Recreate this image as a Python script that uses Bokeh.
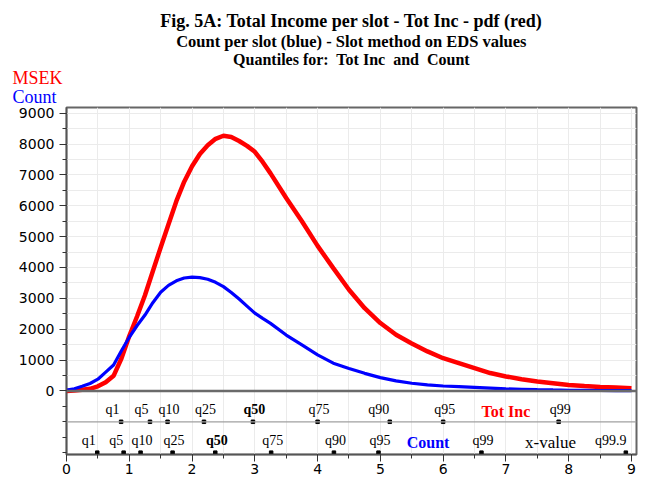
from bokeh.plotting import figure
from bokeh.models import FixedTicker, Span, Label, ColumnDataSource, Range1d
from bokeh.core.properties import value
from bokeh.embed import file_html
from bokeh.resources import INLINE

# ---- data ----
x_vals = [0, 0.125, 0.25, 0.375, 0.5, 0.625, 0.75, 0.875, 1.0, 1.125, 1.25, 1.375, 1.5,
          1.625, 1.75, 1.875, 2.0, 2.125, 2.25, 2.375, 2.5, 2.625, 2.75, 2.875, 3.0,
          3.125, 3.25, 3.5, 3.75, 4.0, 4.25, 4.5, 4.75, 5.0, 5.25, 5.5, 5.75, 6.0,
          6.25, 6.5, 6.75, 7.0, 7.25, 7.5, 7.75, 8.0, 8.25, 8.5, 8.75, 9.0]
tot_inc = [0, 10, 40, 70, 150, 280, 490, 1050, 1780, 2420, 3100, 3880, 4650,
           5400, 6150, 6780, 7280, 7680, 7960, 8170, 8270, 8230, 8100, 7940, 7750,
           7420, 7050, 6250, 5500, 4700, 3980, 3280, 2680, 2200, 1820, 1540, 1280, 1060,
           900, 740, 580, 470, 380, 305, 250, 195, 160, 130, 110, 90]
count = [30, 70, 150, 240, 380, 610, 840, 1300, 1740, 2120, 2460, 2860, 3200,
         3420, 3570, 3660, 3690, 3670, 3620, 3520, 3380, 3190, 2980, 2750, 2520,
         2350, 2190, 1810, 1490, 1170, 900, 730, 570, 430, 325, 250, 195, 160,
         140, 115, 90, 65, 55, 43, 32, 22, 18, 14, 12, 10]

tot_q_names = ["q1", "q5", "q10", "q25", "q50", "q75", "q90", "q95", "q99"]
tot_q_values = [0.87, 1.33, 1.61, 2.19, 2.97, 4.00, 5.15, 6.00, 7.84]
cnt_q_names = ["q1", "q5", "q10", "q25", "q50", "q75", "q90", "q95", "q99", "q99.9"]
cnt_q_values = [0.49, 0.91, 1.18, 1.69, 2.37, 3.26, 4.26, 4.97, 6.61, 8.91]

x_ticks = [0, 1, 2, 3, 4, 5, 6, 7, 8, 9]
y_ticks = [0, 1000, 2000, 3000, 4000, 5000, 6000, 7000, 8000, 9000]

# ---- styles ----
tot_dx = [-8.5, -8.5, 1.5, 1.5, 1.5, 1.5, -11, 1.5, 1.5]
cnt_dx = [-8.5, -7.5, 1.5, 1.5, 1.5, 1.5, 1.5, 1.5, 1.5, -15]
ROW_TOT = -1000
ROW_CNT = -2000
SERIF = "Liberation Serif"
SANS = "DejaVu Sans"

p = figure(width=647, height=481, x_range=Range1d(0, 9.08), y_range=Range1d(-2060, 9185),
           output_backend="svg", toolbar_location=None,
           min_border_left=66, min_border_right=11, min_border_top=107, min_border_bottom=27)
p.background_fill_color = "white"
p.border_fill_color = "white"
p.outline_line_color = "#666666"
p.outline_line_width = 2

# axes
p.xaxis.ticker = FixedTicker(ticks=x_ticks, minor_ticks=[i * 0.5 for i in range(19)])
p.yaxis.ticker = FixedTicker(ticks=y_ticks, minor_ticks=list(range(-2000, 9001, 500)))
for ax in (p.xaxis[0], p.yaxis[0]):
    ax.axis_line_color = "#555555"
    ax.axis_line_width = 1.5
    ax.major_tick_line_color = "#333333"
    ax.minor_tick_line_color = "#333333"
    ax.major_tick_out = 7
    ax.major_tick_in = 0
    ax.minor_tick_out = 4
    ax.minor_tick_in = 0
    ax.major_label_text_font = SANS
    ax.major_label_text_font_size = "14px"
    ax.major_label_text_color = "black"
p.xaxis.major_label_standoff = 2
p.yaxis.major_label_standoff = 5

# grids
p.xgrid.ticker = FixedTicker(ticks=[i * 0.5 for i in range(19)])
p.ygrid.ticker = FixedTicker(ticks=list(range(500, 9001, 500)))
p.xgrid.grid_line_color = "#ebebeb"
p.ygrid.grid_line_color = "#ebebeb"
p.xgrid.grid_line_width = 1
p.ygrid.grid_line_width = 1

p.add_layout(Span(location=0, dimension="width", line_color="#6a6a6a", line_width=2.5))
p.add_layout(Span(location=ROW_TOT, dimension="width", line_color="#a0a0a0", line_width=1.2))

# curves
p.line(x_vals, tot_inc, line_color="#ff0000", line_width=4.5)
p.line(x_vals, count, line_color="#0000ff", line_width=3.2)

# quantiles
tot_src = ColumnDataSource(dict(x=tot_q_values, y=[ROW_TOT] * len(tot_q_values), t=tot_q_names,
                                dx=tot_dx,
                                st=["bold" if n == "q50" else "normal" for n in tot_q_names]))
cnt_src = ColumnDataSource(dict(x=cnt_q_values, y=[ROW_CNT] * len(cnt_q_values), t=cnt_q_names,
                                dx=cnt_dx,
                                st=["bold" if n == "q50" else "normal" for n in cnt_q_names]))
for src in (tot_src, cnt_src):
    p.scatter("x", "y", source=src, marker="square", size=3.5, color="black")
    p.text("x", "y", text="t", source=src, x_offset="dx", y_offset=-12.5,
           text_align="center", text_baseline="alphabetic",
           text_font=value(SERIF), text_font_size="14px", text_font_style="st",
           text_color="black")

# row captions
p.text(x=[7.0], y=[ROW_TOT], text=["Tot Inc"], y_offset=-10, text_align="center",
       text_baseline="alphabetic", text_font=value(SERIF), text_font_size="16px",
       text_font_style="bold", text_color="#ff0000")
p.text(x=[5.76], y=[ROW_CNT], text=["Count"], y_offset=-10, text_align="center",
       text_baseline="alphabetic", text_font=value(SERIF), text_font_size="16px",
       text_font_style="bold", text_color="#0000ff")
p.text(x=[7.71], y=[ROW_CNT], text=["x-value"], y_offset=-10, text_align="center",
       text_baseline="alphabetic", text_font=value(SERIF), text_font_size="17px",
       text_color="black")

# titles and unit labels (placed in the top panel so they are not clipped to the frame)
titles = [("Fig. 5A: Total Income per slot - Tot Inc - pdf (red)", 11972, "18px"),
          ("Count per slot (blue) - Slot method on EDS values", 11308, "16.5px"),
          ("Quantiles for:\u00a0 Tot Inc\u00a0 and\u00a0 Count", 10740, "16px")]
for txt, yy, fs in titles:
    p.add_layout(Label(x=4.54, y=yy, text=txt, text_align="center", text_baseline="alphabetic",
                       text_font=SERIF, text_font_size=fs, text_font_style="bold",
                       text_color="black"), "above")
p.add_layout(Label(x=-0.86, y=10141, text="MSEK", text_align="left", text_baseline="alphabetic",
                   text_font=SERIF, text_font_size="18px", text_color="#ff0000"), "above")
p.add_layout(Label(x=-0.86, y=9541, text="Count", text_align="left", text_baseline="alphabetic",
                   text_font=SERIF, text_font_size="18px", text_color="#0000ff"), "above")

open("out.html", "w").write(file_html(p, INLINE))
